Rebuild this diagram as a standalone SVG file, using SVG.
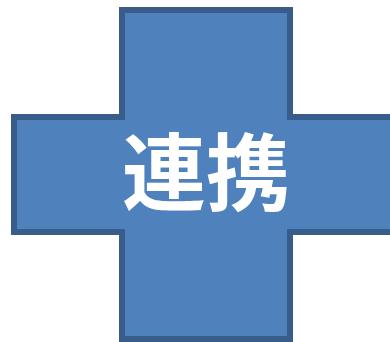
<svg xmlns="http://www.w3.org/2000/svg" width="390" height="342" viewBox="0 0 390 342">
<style>
.shape{fill:#4f81bd;stroke:#385d8a;stroke-width:6;stroke-linejoin:miter}
.label{font-family:"Noto Sans CJK JP","Noto Sans CJK SC",sans-serif;font-weight:700;font-size:84px;fill:#ffffff;text-anchor:middle}
</style>
<g id="cross">
<path class="shape" d="M122 10 H290 V117 H396 V232 H290 V339 H122 V232 H14 V117 H122 Z"/>
<text class="label" x="206" y="204">連携</text>
</g>
</svg>
